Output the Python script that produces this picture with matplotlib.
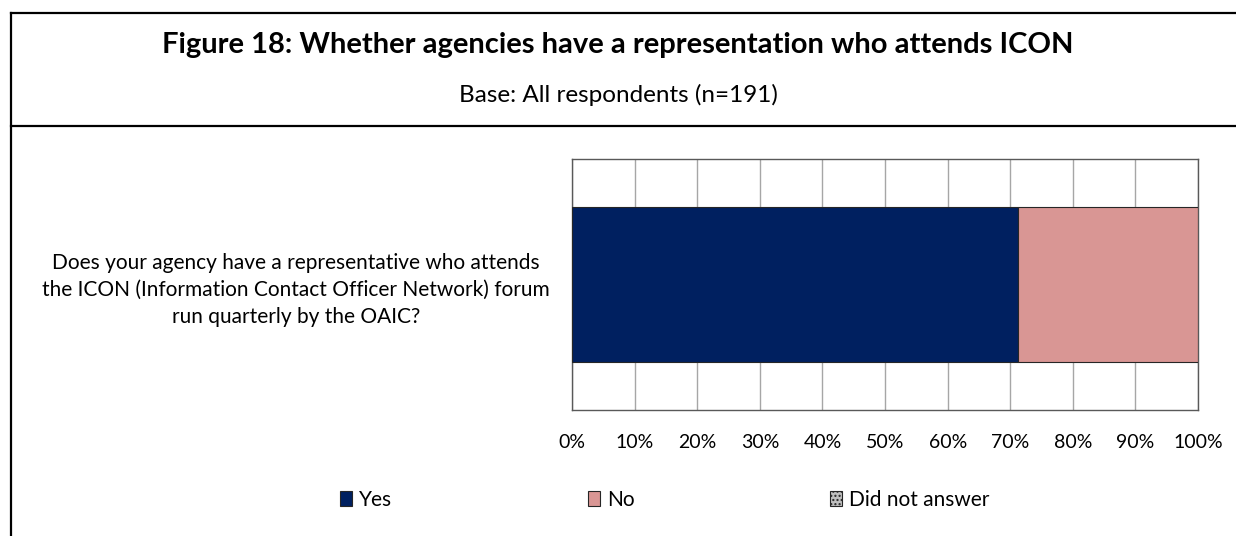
import matplotlib.pyplot as plt
from matplotlib.lines import Line2D

plt.rcParams['font.family'] = ['Lato', 'DejaVu Sans']

# Survey data (n=191), shares in percent
question = ("Does your agency have a representative who attends\n"
            "the ICON (Information Contact Officer Network) forum\n"
            "run quarterly by the OAIC?")
series = ["Yes", "No", "Did not answer"]
values = [71.2, 28.8, 0.0]
colors = ["#002060", "#D99694", "#BFBFBF"]
hatches = [None, None, "...."]
ticks = list(range(0, 101, 10))

fig = plt.figure(figsize=(12.36, 5.36), dpi=100)

# Frame around the figure header
fig.add_artist(Line2D([0.0093, 1.0], [0.9757, 0.9757], color="black", lw=1.6))
fig.add_artist(Line2D([0.0093, 1.0], [0.7649, 0.7649], color="black", lw=1.6))
fig.add_artist(Line2D([0.0093, 0.0093], [0.0, 0.9757], color="black", lw=1.6))

fig.text(0.5, 0.916, "Figure 18: Whether agencies have a representation who attends ICON",
         ha="center", va="center", fontsize=21, fontweight="bold")
fig.text(0.5, 0.822, "Base: All respondents (n=191)", ha="center", va="center", fontsize=17.5)

ax = fig.add_axes([0.4628, 0.2351, 0.5065, 0.4683])
left = 0
for name, val, col, hat in zip(series, values, colors, hatches):
    ax.barh(0, val, left=left, height=0.62, color=col, edgecolor="#262626",
            linewidth=0.8, hatch=hat, label=name, zorder=3)
    left += val

ax.set_xlim(0, 100)
ax.set_ylim(-0.5, 0.5)
ax.set_xticks(ticks)
ax.set_xticklabels([f"{t}%" for t in ticks], fontsize=14)
ax.set_yticks([0])
ax.set_yticklabels([question], fontsize=15, multialignment="center", linespacing=1.45)
ax.tick_params(length=0)
ax.tick_params(axis="x", pad=17)
ax.tick_params(axis="y", pad=16)
ax.grid(axis="x", color="#A6A6A6", linewidth=1.0, zorder=0)
for sp in ax.spines.values():
    sp.set_color("#595959")
    sp.set_linewidth(1.0)

handles, labels = ax.get_legend_handles_labels()
fig.legend(handles, labels, loc="center", bbox_to_anchor=(0.538, 0.067), ncol=3,
           frameon=False, fontsize=15, handlelength=0.55, handleheight=0.75,
           handletextpad=0.35, columnspacing=9.4)

fig.savefig("out.png", dpi=100)
